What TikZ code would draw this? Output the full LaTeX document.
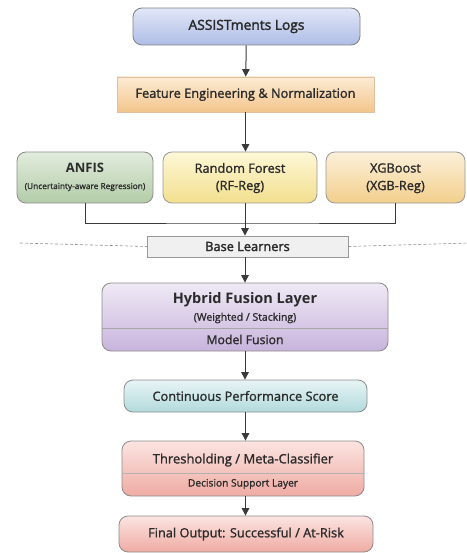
\documentclass[tikz,border=0pt]{standalone}
\usepackage{fontspec}
\setmainfont{Open Sans}[FakeBold=1.3]
\newfontfamily\headfont{Open Sans}[UprightFont=*-Bold]
\newfontfamily\semifont{Open Sans}[FakeBold=2.2]
\usepackage{xcolor}
\usetikzlibrary{arrows.meta}
\definecolor{ink}{HTML}{2B2B2B}
\definecolor{lineg}{HTML}{3A3A3A}
\definecolor{logsT}{HTML}{E2E7F8}
\definecolor{logsB}{HTML}{AEBDE6}
\definecolor{featT}{HTML}{FCEBD4}
\definecolor{featB}{HTML}{F3C58C}
\definecolor{anfT}{HTML}{E2ECDD}
\definecolor{anfB}{HTML}{B3CCA8}
\definecolor{rfT}{HTML}{FDF7D6}
\definecolor{rfB}{HTML}{F2DF8E}
\definecolor{xgbT}{HTML}{FCF0DA}
\definecolor{xgbB}{HTML}{F2CF8C}
\definecolor{hybT}{HTML}{EFE9F5}
\definecolor{hybB}{HTML}{C8B4DC}
\definecolor{conT}{HTML}{E8F4F5}
\definecolor{conB}{HTML}{B2DADC}
\definecolor{redT}{HTML}{FBE4E1}
\definecolor{redB}{HTML}{EFABA3}
\newcommand{\fs}[1]{\fontsize{#1}{#1}\selectfont}

\begin{document}
\begin{tikzpicture}[x=1pt, y=-1pt,
        box/.style={draw=#1, line width=0.8pt, rounded corners=9pt, align=center, text=ink, inner sep=0pt},
        arr/.style={-{Triangle[length=7.5pt, width=7.5pt]}, line width=1pt, lineg},
        big/.style={font=\fs{12.8}}]
        \useasboundingbox (0, 0) rectangle (466, 553);
        \node[box=black!50, top color=logsT, bottom color=logsB, minimum width=227pt, minimum height=37pt, font=\semifont\fs{13.8}] (logs) at (246.5, 26.5) {ASSISTments Logs};
        \node[box=brown!50, rounded corners=0pt, top color=featT, bottom color=featB, minimum width=257pt, minimum height=35pt, big] (feat) at (245.5, 94.5) {Feature Engineering \& Normalization};
        \node[box=black!45, top color=anfT, bottom color=anfB, minimum width=136pt, minimum height=51pt] (anfis) at (85, 177.5) {};
        \node[box=black!40, top color=rfT, bottom color=rfB, minimum width=154pt, minimum height=51pt] (rf) at (240, 177.5) {};
        \node[box=black!40, top color=xgbT, bottom color=xgbB, minimum width=139pt, minimum height=51pt] (xgb) at (395.5, 177.5) {};
        \node[font=\headfont\fs{13}, text=ink] (anfisT) at (anfis.center) [yshift=9.5pt] {ANFIS};
        \node[font=\fs{8.3}, text=ink] (anfisS) at (anfis.center) [yshift=-9.5pt] {(Uncertainty-aware Regression)};
        \node[big, text=ink] (rfT) at (rf.center) [yshift=9.5pt] {Random Forest};
        \node[big, text=ink] (rfS) at (rf.center) [yshift=-9.5pt] {(RF-Reg)};
        \node[big, text=ink] (xgbT) at (xgb.center) [yshift=9.5pt] {XGBoost};
        \node[big, text=ink] (xgbS) at (xgb.center) [yshift=-9.5pt] {(XGB-Reg)};
        \node[box=black!40, rounded corners=0pt, fill=black!6, minimum width=201pt, minimum height=21pt, font=\semifont\fs{12.8}] (base) at (247.5, 246.5) {Base Learners};
        \node[box=black!45, top color=hybT, bottom color=hybB, minimum width=286pt, minimum height=68pt] (hyb) at (245, 317) {};
        \node[font=\headfont\fs{14.5}, text=ink] (hybT) at (245, 300) {Hybrid Fusion Layer};
        \node[font=\fs{10.5}, text=ink] (hybS) at (245, 318) {(Weighted / Stacking)};
        \node[font=\fs{12.3}, text=ink] (hybM) at (245, 339.5) {Model Fusion};
        \draw[black!35, line width=0.6pt] (hyb.west |- 0, 328) -- (hyb.east |- 0, 328);
        \node[box=black!45, top color=conT, bottom color=conB, minimum width=243pt, minimum height=32pt, big] (cont) at (245.5, 396) {Continuous Performance Score};
        \node[box=black!45, top color=redT, bottom color=redB, minimum width=242pt, minimum height=55pt] (thr) at (243, 468.5) {};
        \node[font=\fs{13}, text=ink] (thrT) at (243, 460) {Thresholding / Meta-Classifier};
        \node[font=\fs{10.2}, text=ink] (thrS) at (243, 484) {Decision Support Layer};
        \draw[black!30, line width=0.6pt] (thr.west |- 0, 473) -- (thr.east |- 0, 473);
        \node[box=black!45, top color=redT, bottom color=redB, minimum width=254pt, minimum height=36pt, big] (fin) at (246, 534) {Final Output: Successful / At-Risk};
        \coordinate (jn) at (245, 223);
        \coordinate (dl) at (20, 243);
        \coordinate (dr) at (470, 243);
        \draw[arr] (logs) -- (feat);
        \draw[arr] (feat.south) -- (feat.south |- anfis.north);
        \draw[line width=1pt, lineg] (anfis.south) |- (jn) -| (xgb.south);
        \draw[arr] (rf.south -| jn) -- (base.north -| jn);
        \draw[black!45, dashed, dash pattern=on 3pt off 2pt, line width=0.6pt] (dl) -- (base.west) (base.east) -- (dr);
        \draw[arr] (base.south -| hyb) -- (hyb.north);
        \draw[arr] (hyb.south) -- (hyb.south |- cont.north);
        \draw[arr] (cont.south) -- (cont.south |- thr.north);
        \draw[arr] (thr.south -| cont) -- (fin.north -| cont);
\end{tikzpicture}
\end{document}
